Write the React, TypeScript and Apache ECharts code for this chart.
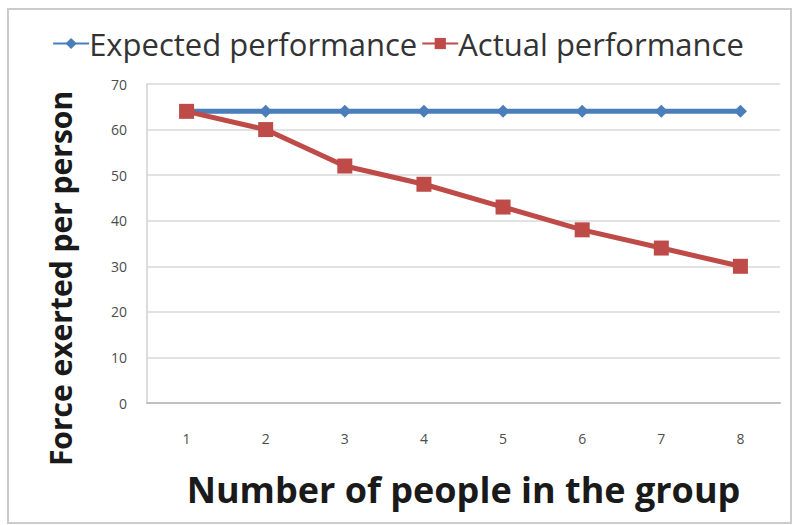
import React, { useEffect, useRef } from "react";
import * as echarts from "echarts";

const categories = ["1", "2", "3", "4", "5", "6", "7", "8"];
const expected = [64, 64, 64, 64, 64, 64, 64, 64];
const actual = [64, 60, 52, 48, 43, 38, 34, 30];

export default function App() {
  const ref = useRef<HTMLDivElement>(null);
  useEffect(() => {
    const chart = echarts.init(ref.current!, null, { renderer: "svg" });
    chart.setOption({
      animation: false,
      backgroundColor: "#ffffff",
      graphic: [
        {
          type: "rect",
          shape: { x: 8, y: 9, width: 783, height: 514 },
          style: { fill: "none", stroke: "#cccccc", lineWidth: 2 },
          silent: true,
        },
      ],
      legend: {
        top: 23,
        left: "center",
        itemGap: 4,
        itemWidth: 36,
        itemHeight: 14,
        textStyle: { fontFamily: "Open Sans", fontSize: 31, color: "#333333", padding: [0, 0, 0, -5] },
        data: ["Expected performance", "Actual performance"],
      },
      grid: { left: 147, right: 16, top: 84, bottom: 122 },
      xAxis: {
        type: "category",
        data: categories,
        boundaryGap: true,
        name: "Number of people in the group",
        nameLocation: "middle",
        nameGap: 68,
        nameTextStyle: { fontFamily: "Open Sans", fontWeight: "bold", fontSize: 36, color: "#1a1a1a" },
        axisLine: { lineStyle: { color: "#c0c0c0", width: 2 } },
        axisTick: { show: false },
        axisLabel: { margin: 28, fontFamily: "Open Sans", fontSize: 14, color: "#4d4d4d" },
      },
      yAxis: {
        type: "value",
        min: 0,
        max: 70,
        interval: 10,
        name: "Force exerted per person",
        nameLocation: "middle",
        nameGap: 72,
        nameTextStyle: {
          fontFamily: "Open Sans",
          fontWeight: "bold",
          fontSize: 30,
          color: "#1a1a1a",
          padding: [0, 70, 0, 0],
        },
        axisLine: { show: true, lineStyle: { color: "#d0d0d0", width: 1.5 } },
        axisTick: { show: false },
        axisLabel: { margin: 20, fontFamily: "Open Sans", fontSize: 14, color: "#4d4d4d" },
        splitLine: { lineStyle: { color: "#d9d9d9", width: 1.5 } },
      },
      series: [
        {
          name: "Expected performance",
          type: "line",
          data: expected,
          symbol: "diamond",
          symbolSize: 13,
          lineStyle: { color: "#4a7ebb", width: 5 },
          itemStyle: { color: "#4a7ebb" },
        },
        {
          name: "Actual performance",
          type: "line",
          data: actual,
          symbol: "rect",
          symbolSize: 15,
          lineStyle: { color: "#be4b48", width: 5 },
          itemStyle: { color: "#be4b48" },
        },
      ],
    });
    return () => chart.dispose();
  }, []);
  return <div ref={ref} style={{ position: "fixed", left: 0, top: 0, width: 796, height: 525 }} />;
}
